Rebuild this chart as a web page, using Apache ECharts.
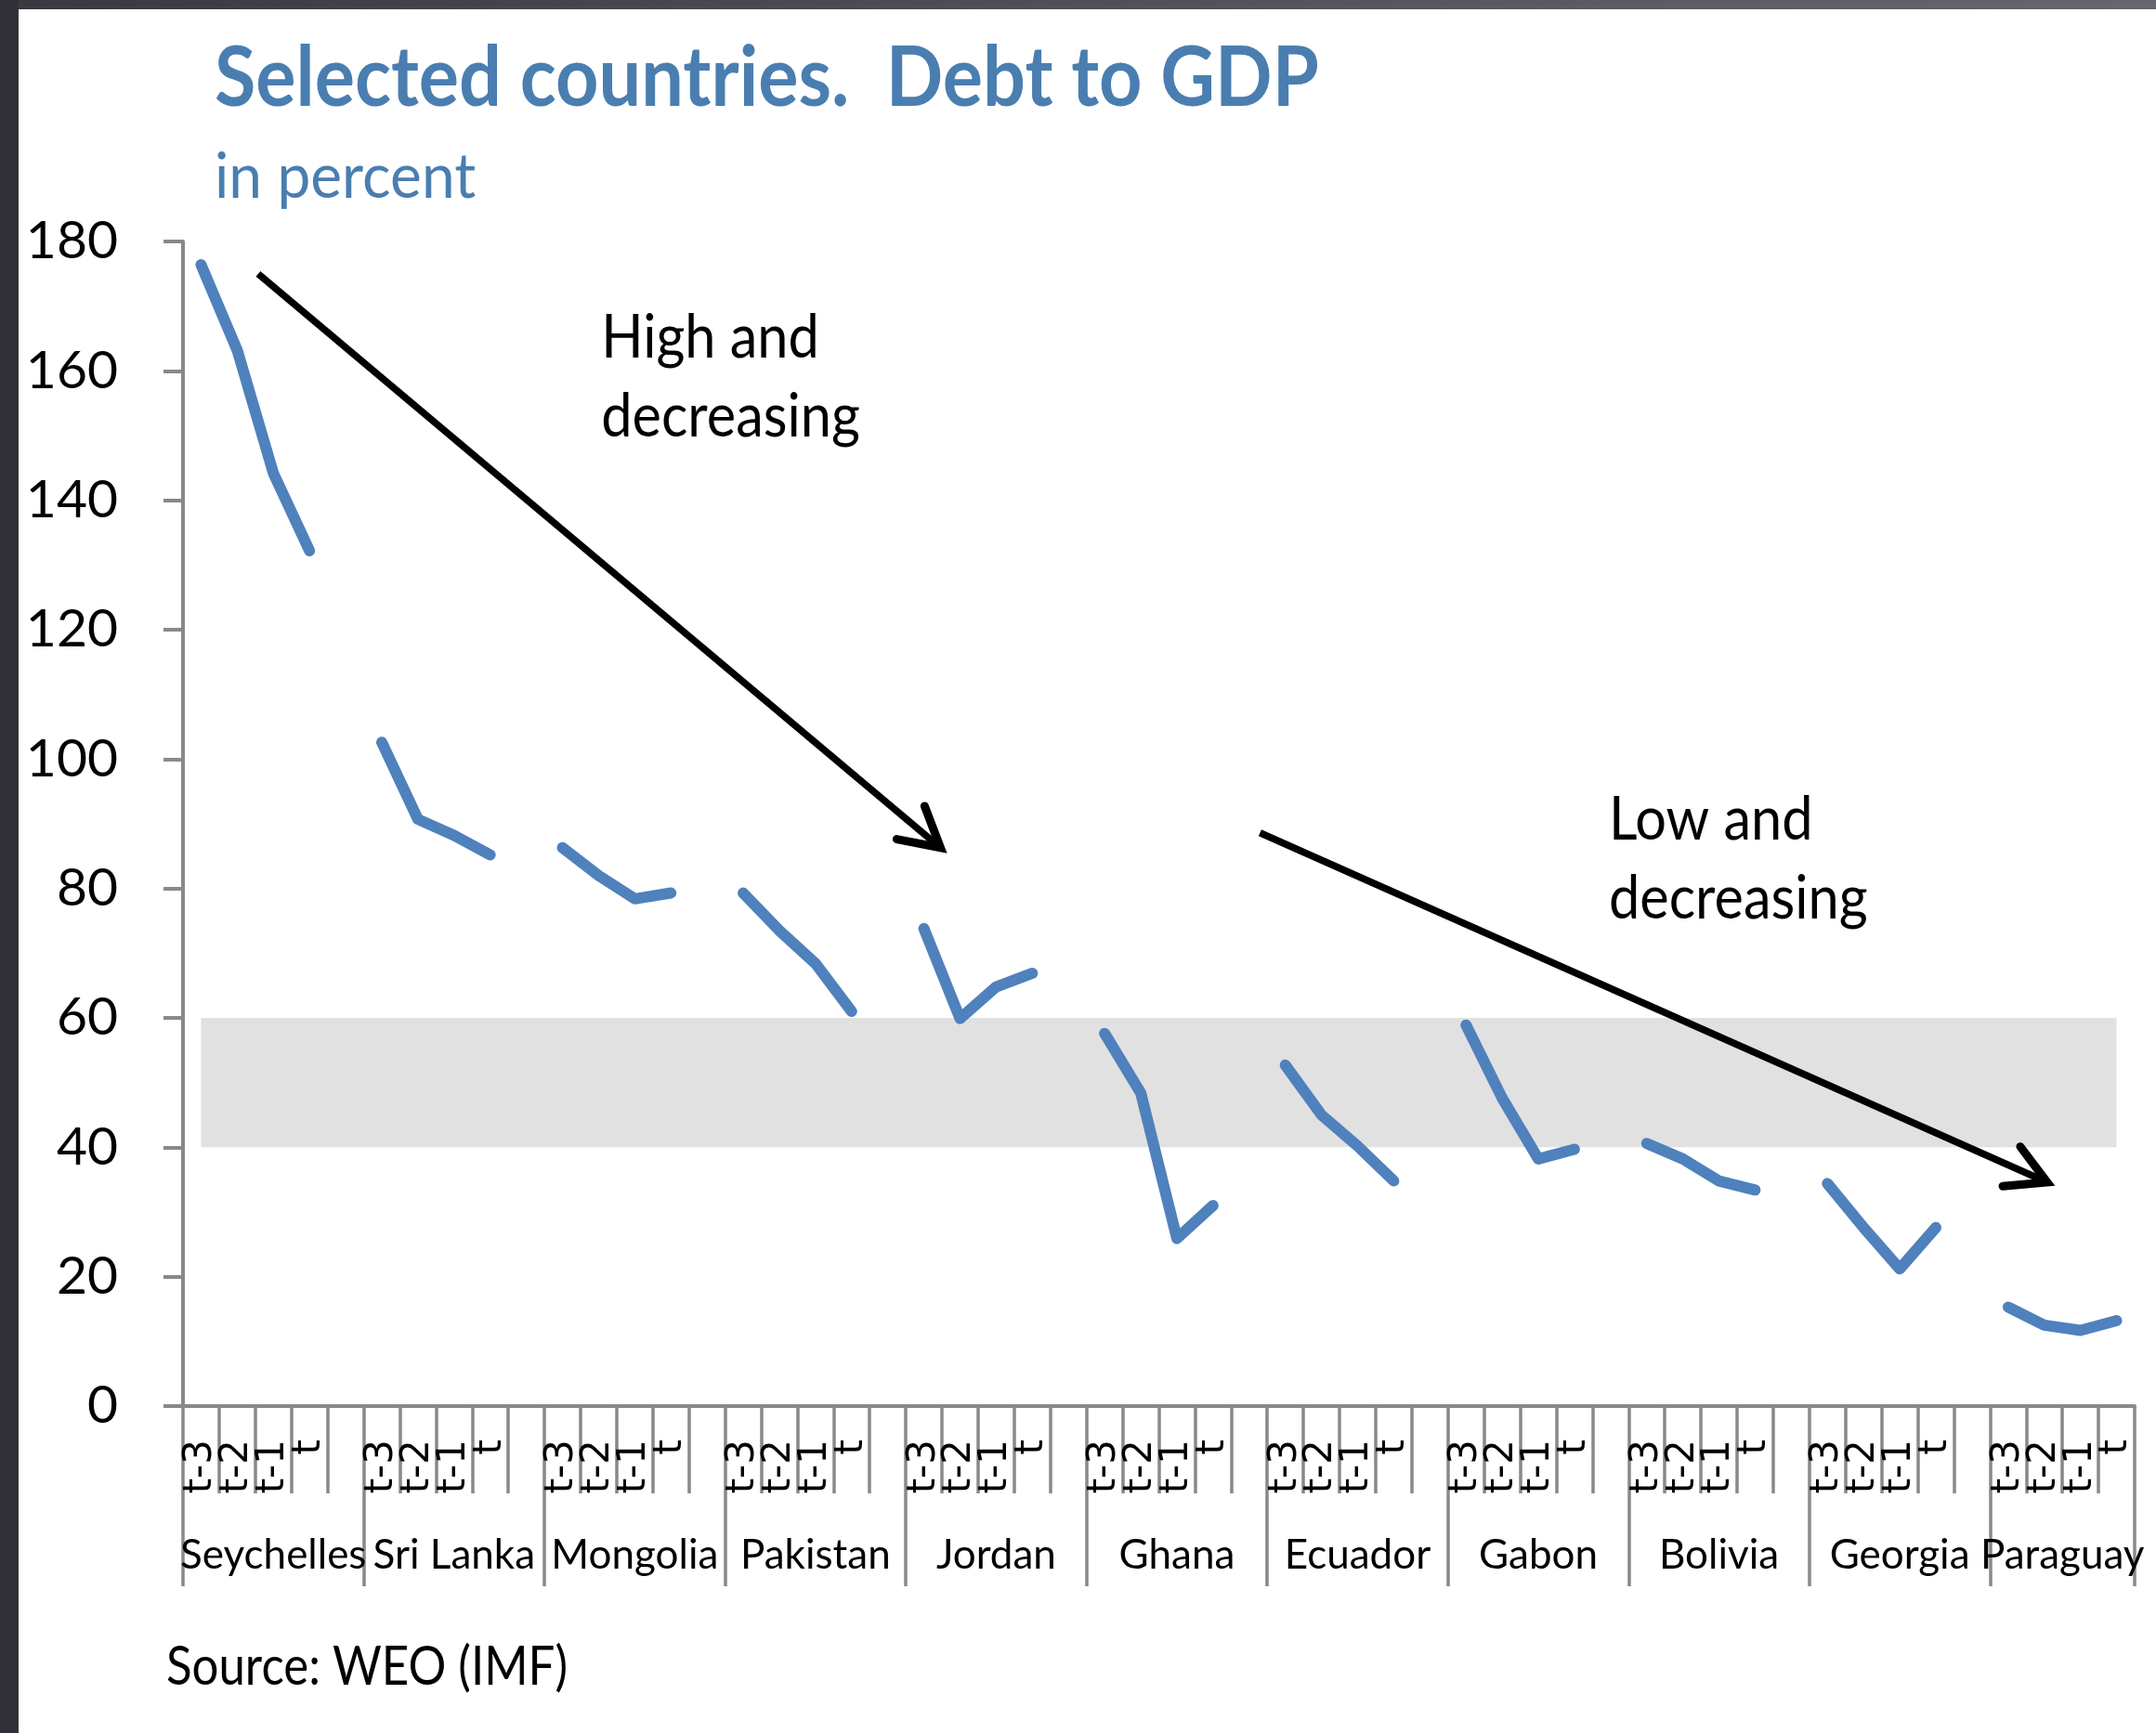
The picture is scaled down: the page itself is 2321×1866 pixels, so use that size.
<!DOCTYPE html>
<html>
<head>
<meta charset="utf-8">
<title>Selected countries. Debt to GDP</title>
<script src="https://cdn.jsdelivr.net/npm/echarts@6/dist/echarts.min.js"></script>
<style>
  html, body { margin: 0; padding: 0; background: #ffffff; }
  #chart { width: 2321px; height: 1866px; }
</style>
</head>
<body>
<div id="chart"></div>
<script>
// ---- data -------------------------------------------------------------
const countries = ['Seychelles', 'Sri Lanka', 'Mongolia', 'Pakistan', 'Jordan',
  'Ghana', 'Ecuador', 'Gabon', 'Bolivia', 'Georgia', 'Paraguay'];
const periods = ['t-3', 't-2', 't-1', 't'];

// debt to GDP, percent, for t-3 .. t
const seychelles = [176.4, 163.2, 144.2, 132.2];
const sriLanka   = [102.6, 90.7, 88.2, 85.2];
const mongolia   = [86.3, 82.0, 78.4, 79.3];
const pakistan   = [79.3, 73.5, 68.4, 61.0];
const jordan     = [73.8, 59.9, 64.8, 66.9];
const ghana      = [57.6, 48.4, 25.9, 31.0];
const ecuador    = [52.7, 45.0, 40.2, 34.8];
const gabon      = [58.9, 47.6, 38.2, 39.7];
const bolivia    = [40.6, 38.2, 34.8, 33.4];
const georgia    = [34.4, 27.6, 21.2, 27.6];
const paraguay   = [15.3, 12.5, 11.7, 13.2];
const countryValues = [seychelles, sriLanka, mongolia, pakistan, jordan,
  ghana, ecuador, gabon, bolivia, georgia, paraguay];

// value axis ticks
const yMin = 0, yMax = 180, yStep = 20;

// reference band, percent of GDP
const bandLow = 40, bandHigh = 60;

// trend arrows: [slot x0, value y0, slot x1, value y1]
const arrows = [
  [2.08, 175.0, 20.96, 86.3],
  [29.80, 88.6, 51.58, 34.6]
];
// arrow captions: slot x, value y (top of the text block)
const noteX = [11.57, 39.45];
const noteY = [171.1, 96.6];
const noteText = ['High and\ndecreasing', 'Low and\ndecreasing'];

// ---- build the slotted category axis ---------------------------------
// each country: four periods plus one empty spacer slot (none after the last)
const categories = [];
const values = [];
const groupEdges = [];
const groupCenters = [];
countries.forEach(function (c, i) {
  const start = categories.length;
  groupEdges.push(start);
  periods.forEach(function (p, j) {
    categories.push(c + '|' + p);
    values.push(countryValues[i][j]);
  });
  if (i < countries.length - 1) {
    categories.push(c + '|');
    values.push(null);
  }
  groupCenters.push((start + categories.length) / 2);
});
const slotCount = categories.length;
groupEdges.push(slotCount);

const SANS = "Lato, 'Liberation Sans', sans-serif";
const WIDE = "'DejaVu Sans', 'Liberation Sans', sans-serif";
const AXIS_GREY = '#898989';
const TITLE_BLUE = '#4a7eb0';

const chart = echarts.init(document.getElementById('chart'), null, { renderer: 'canvas' });

function heading(txt, x, y, size, weight, color, sy) {
  return {
    type: 'text', silent: true, z: 50,
    x: x, y: y, scaleY: sy,
    style: {
      text: txt, fontFamily: SANS, fontSize: size, fontWeight: weight,
      fill: color, align: 'left', verticalAlign: 'middle'
    }
  };
}

const option = {
  backgroundColor: '#ffffff',
  animation: false,
  graphic: [
    {
      type: 'rect', silent: true, z: 100,
      shape: { x: 0, y: 0, width: 2321, height: 10 },
      style: {
        fill: new echarts.graphic.LinearGradient(0, 0, 1, 0, [
          { offset: 0, color: '#39393f' },
          { offset: 1, color: '#67666d' }
        ])
      }
    },
    {
      type: 'rect', silent: true, z: 100,
      shape: { x: 0, y: 0, width: 20, height: 1866 },
      style: { fill: '#303036' }
    },
    heading('Selected countries.  Debt to GDP', 231, 85, 81, 'bold', TITLE_BLUE, 1.1),
    heading('in percent', 231, 191, 64, 'normal', TITLE_BLUE, 1.05),
    heading('Source: WEO (IMF)', 179, 1796, 51, 'normal', '#000000', 1.12)
  ],
  grid: {
    left: 197, right: 23, top: 260, bottom: 352,
    containLabel: false,
    outerBoundsMode: 'none'
  },
  xAxis: [
    {
      type: 'category',
      data: categories,
      position: 'bottom',
      boundaryGap: true,
      axisLine: { show: true, lineStyle: { color: AXIS_GREY, width: 4 } },
      axisTick: { show: true, interval: 0, alignWithLabel: false, length: 94,
        lineStyle: { color: AXIS_GREY, width: 3.5 } },
      axisLabel: {
        show: true, interval: 0, rotate: 90, margin: 36,
        fontFamily: WIDE, fontSize: 42, color: '#000000',
        formatter: function (v) { return v.split('|')[1]; }
      },
      splitLine: { show: false }
    },
    {
      type: 'value',
      min: 0, max: slotCount,
      position: 'bottom',
      axisLine: { show: false },
      axisTick: { show: true, length: 194, customValues: groupEdges,
        lineStyle: { color: AXIS_GREY, width: 3.5 } },
      axisLabel: {
        show: true, margin: 139, customValues: groupCenters,
        showMinLabel: true, showMaxLabel: true, hideOverlap: false,
        fontFamily: SANS, fontSize: 44, lineHeight: 44, color: '#000000',
        formatter: function (v) {
          const k = groupCenters.findIndex(function (c) { return Math.abs(c - v) < 1e-6; });
          return k >= 0 ? countries[k] : '';
        }
      },
      splitLine: { show: false }
    }
  ],
  yAxis: {
    type: 'value',
    min: yMin, max: yMax, interval: yStep,
    axisLine: { show: true, lineStyle: { color: AXIS_GREY, width: 4 } },
    axisTick: { show: true, length: 21, lineStyle: { color: AXIS_GREY, width: 4 } },
    axisLabel: { margin: 70, fontFamily: SANS, fontSize: 57, color: '#000000' },
    splitLine: { show: false }
  },
  series: [
    {
      name: 'Debt to GDP',
      type: 'line',
      xAxisIndex: 0, yAxisIndex: 0,
      data: values,
      connectNulls: false,
      showSymbol: false,
      symbol: 'none',
      z: 3,
      lineStyle: { color: '#4f81bd', width: 12, cap: 'round', join: 'round' },
      markArea: {
        silent: true,
        itemStyle: { color: '#e1e1e1' },
        data: [[
          { xAxis: categories[0], yAxis: bandLow },
          { xAxis: categories[slotCount - 1], yAxis: bandHigh }
        ]]
      }
    },
    {
      name: 'trend',
      type: 'custom',
      coordinateSystem: 'cartesian2d',
      xAxisIndex: 1, yAxisIndex: 0,
      z: 5,
      silent: true,
      data: arrows,
      encode: { x: [0, 2], y: [1, 3] },
      renderItem: function (params, api) {
        const p1 = api.coord([api.value(0), api.value(1)]);
        const p2 = api.coord([api.value(2), api.value(3)]);
        const ang = Math.atan2(p2[1] - p1[1], p2[0] - p1[0]);
        const len = 48, spread = 29 * Math.PI / 180;
        const h1 = [p2[0] - len * Math.cos(ang - spread), p2[1] - len * Math.sin(ang - spread)];
        const h2 = [p2[0] - len * Math.cos(ang + spread), p2[1] - len * Math.sin(ang + spread)];
        return {
          type: 'group',
          children: [
            { type: 'line', shape: { x1: p1[0], y1: p1[1], x2: p2[0], y2: p2[1] },
              style: { stroke: '#000000', lineWidth: 7.5, lineCap: 'butt' } },
            { type: 'polyline', shape: { points: [h1, p2, h2] },
              style: { stroke: '#000000', fill: null, lineWidth: 9, lineCap: 'round', lineJoin: 'miter' } }
          ]
        };
      }
    },
    {
      name: 'notes',
      type: 'custom',
      coordinateSystem: 'cartesian2d',
      xAxisIndex: 1, yAxisIndex: 0,
      z: 5,
      silent: true,
      data: noteX.map(function (x, i) { return [x, noteY[i]]; }),
      renderItem: function (params, api) {
        const p = api.coord([api.value(0), api.value(1)]);
        return {
          type: 'text',
          x: p[0], y: p[1], scaleY: 1.1,
          style: {
            text: noteText[params.dataIndex],
            fontFamily: SANS, fontSize: 59.5, lineHeight: 77,
            fill: '#000000', align: 'left', verticalAlign: 'top'
          }
        };
      }
    }
  ]
};

chart.setOption(option);
</script>
</body>
</html>
